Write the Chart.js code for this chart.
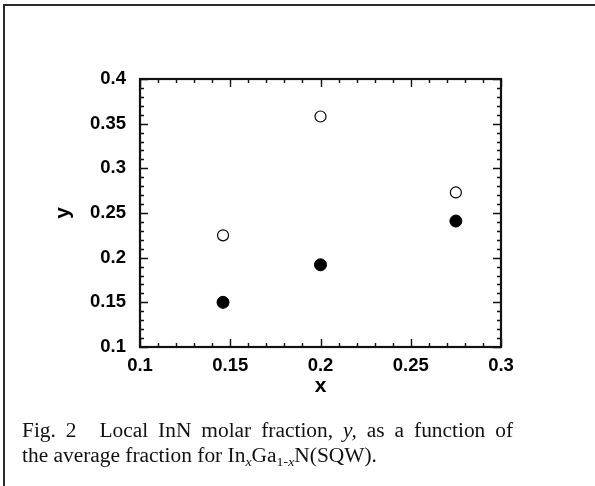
<!DOCTYPE html>
<html>
<head>
<meta charset="utf-8">
<script src="https://cdn.jsdelivr.net/npm/chart.js@4/dist/chart.umd.min.js"></script>
<style>
  html, body { margin: 0; padding: 0; background: #fff; }
  #wrap { position: relative; width: 595px; height: 486px; overflow: hidden; }
  #frame { position: absolute; left: 3px; top: 4px; width: 620px; height: 520px; border: 2px solid #2a2a2a; box-sizing: border-box; }
  #c { position: absolute; left: 0; top: 0; }
  #caption { position: absolute; left: 22px; top: 418px; font-family: "Liberation Serif", "Times New Roman", serif; font-size: 20px; line-height: 25px; color: #111; white-space: nowrap; transform: scaleX(1.07); transform-origin: 0 0; }
  #caption .l1 { display: block; width: 459px; text-align: justify; text-align-last: justify; white-space: normal; }
  #caption .l2 { display: block; }
  #caption sub { font-size: 13px; vertical-align: -4px; line-height: 0; }
</style>
</head>
<body>
<div id="wrap">
  <div id="frame"></div>
  <canvas id="c" width="595" height="486"></canvas>
  <div id="caption"><span class="l1">Fig. 2<span style="display:inline-block;width:12px"></span> Local InN molar fraction, <i>y,</i> as a function of</span><span class="l2">the average fraction for In<sub><i>x</i></sub>Ga<sub>1-<i>x</i></sub>N(SQW).</span></div>
</div>
<script>
// Data
const xValues      = [0.146, 0.200, 0.275];
const openValues   = [0.225, 0.358, 0.273];
const filledValues = [0.150, 0.192, 0.241];
const xTickValues  = [0.1, 0.15, 0.2, 0.25, 0.3];
const yTickValues  = [0.1, 0.15, 0.2, 0.25, 0.3, 0.35, 0.4];
const xTickLabels  = ['0.1', '0.15', '0.2', '0.25', '0.3'];
const yTickLabels  = ['0.1', '0.15', '0.2', '0.25', '0.3', '0.35', '0.4'];

const tickFont = { family: '"Liberation Sans", Arial, sans-serif', size: 18.5, weight: 'bold' };
const titleFont = { family: '"Liberation Sans", Arial, sans-serif', size: 21, weight: 'bold' };

const framePlugin = {
  id: 'frameTicks',
  beforeDatasetsDraw(chart) {
    const { ctx, chartArea: a, scales } = chart;
    const xs = scales.x, ys = scales.y;
    ctx.save();
    ctx.strokeStyle = '#111';
    ctx.lineWidth = 1.4;
    const minor = 0.01;
    for (let i = 0; i <= 20; i++) {
      const v = 0.1 + i * minor;
      const px = Math.round(xs.getPixelForValue(v)) + 0.5;
      const len = (i % 5 === 0) ? 8 : 4;
      ctx.beginPath();
      ctx.moveTo(px, a.bottom); ctx.lineTo(px, a.bottom - len);
      ctx.moveTo(px, a.top); ctx.lineTo(px, a.top + len);
      ctx.stroke();
    }
    for (let i = 0; i <= 30; i++) {
      const v = 0.1 + i * minor;
      const py = Math.round(ys.getPixelForValue(v)) + 0.5;
      const len = (i % 5 === 0) ? 8 : 4;
      ctx.beginPath();
      ctx.moveTo(a.left, py); ctx.lineTo(a.left + len, py);
      ctx.moveTo(a.right, py); ctx.lineTo(a.right - len, py);
      ctx.stroke();
    }
    ctx.lineWidth = 2.2;
    ctx.strokeRect(a.left, a.top, a.right - a.left, a.bottom - a.top);
    ctx.restore();
  }
};

new Chart(document.getElementById('c'), {
  type: 'scatter',
  data: {
    datasets: [
      {
        label: 'open',
        data: xValues.map((x, i) => ({ x: x, y: openValues[i] })),
        pointStyle: 'circle',
        pointRadius: 5.5,
        pointBackgroundColor: '#fff',
        pointBorderColor: '#000',
        pointBorderWidth: 1.2
      },
      {
        label: 'filled',
        data: xValues.map((x, i) => ({ x: x, y: filledValues[i] })),
        pointStyle: 'circle',
        pointRadius: 6,
        pointBackgroundColor: '#000',
        pointBorderColor: '#000',
        pointBorderWidth: 1
      }
    ]
  },
  options: {
    responsive: false,
    animation: false,
    events: [],
    layout: { padding: { left: 51, top: 79, right: 94, bottom: 87 } },
    plugins: { legend: { display: false }, tooltip: { enabled: false } },
    scales: {
      x: {
        type: 'linear', min: 0.1, max: 0.3,
        afterBuildTicks(s) { s.ticks = xTickValues.map(v => ({ value: v })); },
        afterFit(s) { s.height = 52; },
        grid: { display: false, drawTicks: false, tickLength: 0 },
        border: { display: false },
        ticks: {
          autoSkip: false, maxRotation: 0, padding: 8, color: '#000', font: tickFont,
          callback: (v, i) => xTickLabels[i]
        },
        title: { display: true, text: 'x', color: '#000', font: titleFont, padding: 0 }
      },
      y: {
        type: 'linear', min: 0.1, max: 0.4,
        afterBuildTicks(s) { s.ticks = yTickValues.map(v => ({ value: v })); },
        afterFit(s) { s.width = 89; },
        grid: { display: false, drawTicks: false, tickLength: 0 },
        border: { display: false },
        ticks: {
          autoSkip: false, padding: 14, color: '#000', font: tickFont,
          callback: (v, i) => yTickLabels[i]
        },
        title: { display: true, text: 'y', color: '#000', font: titleFont, padding: 0 }
      }
    }
  },
  plugins: [framePlugin]
});
</script>
</body>
</html>
